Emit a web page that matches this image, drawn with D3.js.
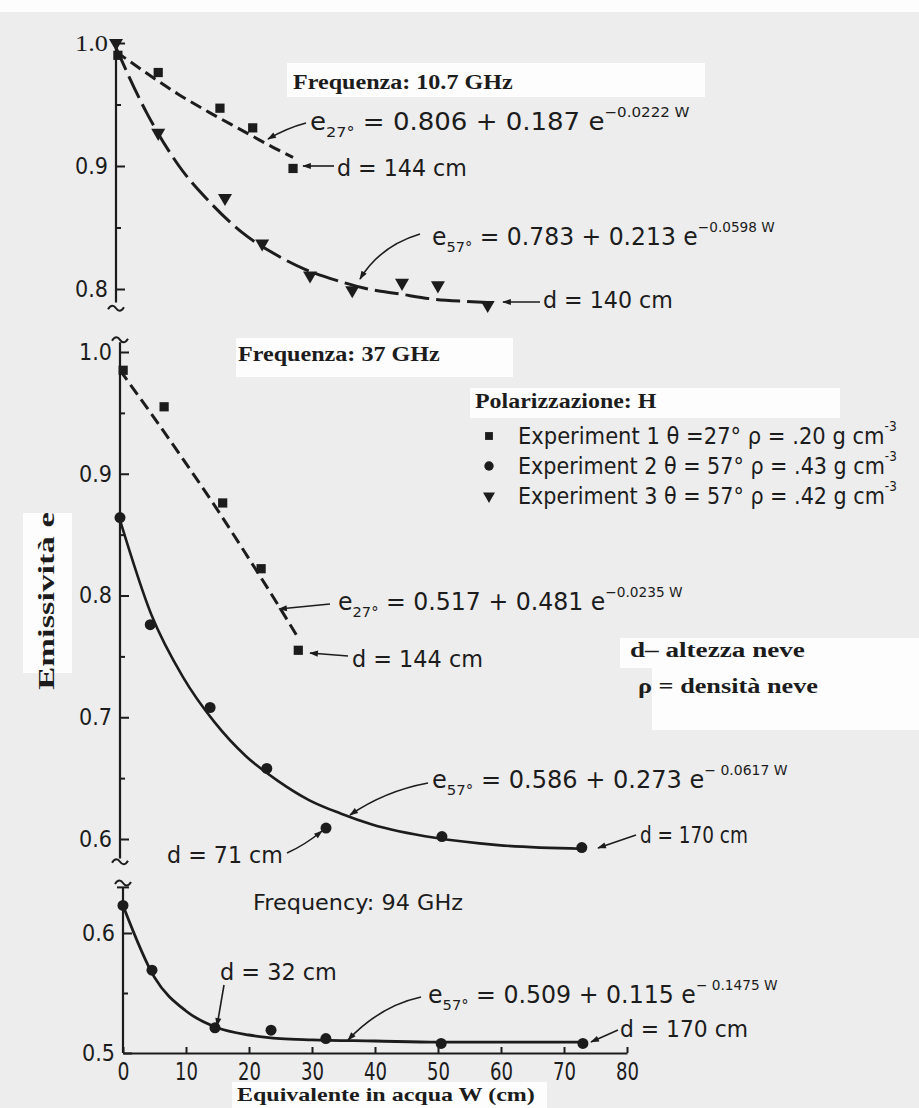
<!DOCTYPE html>
<html><head><meta charset="utf-8">
<script src="https://cdn.jsdelivr.net/npm/d3@7"></script>
<style>
html,body{margin:0;padding:0;background:#ededed;}
svg{display:block;}
</style></head>
<body>
<svg id="chart" width="919" height="1108"></svg>
<script>
// ---------------- DATA ----------------
const xTicks = [0, 10, 20, 30, 40, 50, 60, 70, 80];
const p1YTicks = [0.8, 0.9, 1.0];
const p1YMinor = [0.85, 0.95];
const p2YTicks = [0.6, 0.7, 0.8, 0.9, 1.0];
const p2YMinor = [0.65, 0.75, 0.85, 0.95];
const p3YTicks = [0.5, 0.6];
const p3YMinor = [0.55];

// 10.7 GHz
const f10_exp1_W = [0.3, 6.7, 16.5, 21.7, 28.1];
const f10_exp1_e = [0.990, 0.976, 0.947, 0.931, 0.898];
const f10_exp3_W = [0, 6.7, 17.3, 23.2, 30.8, 37.5, 45.4, 51.1, 59.0];
const f10_exp3_e = [1.000, 0.927, 0.874, 0.837, 0.811, 0.799, 0.805, 0.803, 0.787];
const f10_fit1_W = [0, 5, 10, 15, 20, 25, 28.1];
const f10_fit1_e = [0.993, 0.975, 0.958, 0.943, 0.929, 0.915, 0.907];
const f10_fit3_W = [0, 5, 10, 15, 20, 25, 30, 35, 40, 45, 50, 55, 59];
const f10_fit3_e = [0.996, 0.942, 0.900, 0.870, 0.846, 0.829, 0.816, 0.807, 0.800, 0.796, 0.792, 0.790, 0.789];

// 37 GHz
const f37_exp1_W = [0.5, 7.0, 16.3, 22.4, 28.3];
const f37_exp1_e = [0.985, 0.955, 0.876, 0.822, 0.755];
const f37_exp2_W = [0, 4.8, 14.3, 23.3, 32.7, 51.1, 73.3];
const f37_exp2_e = [0.864, 0.776, 0.708, 0.658, 0.609, 0.602, 0.593];
const f37_fit1_W = [0, 5, 10, 15, 20, 25, 28.3];
const f37_fit1_e = [0.985, 0.949, 0.912, 0.874, 0.834, 0.793, 0.765];
const f37_fit2_W = [0, 5, 10, 15, 20, 25, 30, 35, 40, 50, 60, 73.3];
const f37_fit2_e = [0.862, 0.784, 0.733, 0.696, 0.668, 0.648, 0.632, 0.621, 0.612, 0.601, 0.595, 0.592];

// 94 GHz
const f94_exp2_W = [0, 4.6, 14.6, 23.5, 32.2, 50.5, 73.0];
const f94_exp2_e = [0.623, 0.569, 0.521, 0.519, 0.512, 0.508, 0.508];
const f94_fit2_W = [0, 5, 10, 15, 20, 25, 30, 40, 50, 73];
const f94_fit2_e = [0.623, 0.563, 0.535, 0.521, 0.515, 0.512, 0.511, 0.510, 0.509, 0.509];

const legendLabels = [
  ["Experiment 1  θ =27° ρ = .20 g cm", "-3"],
  ["Experiment 2  θ = 57° ρ = .43 g cm", "-3"],
  ["Experiment 3  θ = 57° ρ = .42 g cm", "-3"]
];

// ---------------- SETUP ----------------
const ink = "#1c1c1c";
const sans = "'DejaVu Sans', 'Liberation Sans', sans-serif";
const serif = "'Liberation Serif', 'Times New Roman', serif";
const svg = d3.select("#chart");
const zip = (a, b) => a.map((v, i) => [v, b[i]]);

const X_SPAN = 504;
const x1 = d3.scaleLinear().domain([0, 80]).range([116, 116 + X_SPAN]);
const x2 = d3.scaleLinear().domain([0, 80]).range([120, 120 + X_SPAN]);
const x3 = d3.scaleLinear().domain([0, 80]).range([123, 123 + X_SPAN]);
const y1 = d3.scaleLinear().domain([0.8, 1.0]).range([289, 43]);
const y2 = d3.scaleLinear().domain([0.6, 1.0]).range([839, 352]);
const y3 = d3.scaleLinear().domain([0.5, 0.6]).range([1053, 933]);

// defs: arrowhead
svg.append("defs").append("marker")
  .attr("id", "arr").attr("viewBox", "0 0 10 8").attr("refX", 9).attr("refY", 4)
  .attr("markerWidth", 11).attr("markerHeight", 7).attr("markerUnits", "userSpaceOnUse")
  .attr("orient", "auto")
  .append("path").attr("d", "M0,0.5 L10,4 L0,7.5 z").attr("fill", ink);

// background white patches (as in the scanned figure)
const whites = [
  [0, 0, 919, 12],
  [287, 63, 418, 34],
  [236, 338, 277, 39],
  [470, 388, 370, 30],
  [620, 638, 299, 30],
  [652, 668, 267, 62],
  [23, 513, 49, 160],
  [232, 1082, 315, 26]
];
svg.append("g").selectAll("rect").data(whites).join("rect")
  .attr("x", d => d[0]).attr("y", d => d[1]).attr("width", d => d[2]).attr("height", d => d[3])
  .attr("fill", "#fdfdfd");

// rich text helper (parts: string or [string,'sub'|'sup'])
function rich(x, y, parts, o) {
  const size = o.size;
  const t = svg.append("text")
    .attr("font-family", o.family || sans).attr("font-size", size)
    .attr("font-weight", o.weight || "normal").attr("fill", ink)
    .attr("text-anchor", o.anchor || "start");
  let cur = 0;
  parts.forEach(p => {
    const s = typeof p === "string" ? p : p[0];
    const k = typeof p === "string" ? "n" : p[1];
    let target = 0, fs = size;
    if (k === "sub") { target = size * 0.28; fs = size * 0.62; }
    if (k === "sup") { target = -size * 0.55; fs = size * 0.58; }
    t.append("tspan").attr("font-size", fs).attr("dy", target - cur).text(s);
    cur = target;
  });
  let sx = 1;
  if (o.width) sx = o.width / t.node().getBBox().width;
  const rot = o.rotate ? ` rotate(${o.rotate})` : "";
  t.attr("transform", `translate(${x},${y})${rot} scale(${sx},1)`);
  return t;
}

function squiggle(ax, y) {
  svg.append("path")
    .attr("d", `M${ax - 8},${y + 1} C${ax - 5},${y - 4} ${ax - 2},${y - 3} ${ax},${y} S${ax + 5},${y + 4} ${ax + 8},${y - 1}`)
    .attr("fill", "none").attr("stroke", ink).attr("stroke-width", 2);
}

function yAxis(xs, ys, major, minor, from, to, serifTop) {
  const ax = xs(0);
  const g = svg.append("g").attr("transform", `translate(${ax},0)`);
  g.call(d3.axisLeft(ys).tickValues(major).tickSize(-9).tickPadding(8).tickFormat(d3.format(".1f")));
  g.select(".domain").remove();
  g.selectAll(".tick line").attr("stroke", ink).attr("stroke-width", 2);
  g.selectAll(".tick text").attr("font-family", sans).attr("font-size", 23).attr("fill", ink)
    .attr("textLength", 33).attr("lengthAdjust", "spacingAndGlyphs");
  if (serifTop) g.selectAll(".tick text").filter(d => d === 1.0).attr("font-family", serif);
  const gm = svg.append("g").attr("transform", `translate(${ax},0)`);
  gm.call(d3.axisLeft(ys).tickValues(minor).tickSize(-5).tickFormat(""));
  gm.select(".domain").remove();
  gm.selectAll(".tick line").attr("stroke", ink).attr("stroke-width", 2);
  svg.append("line").attr("x1", ax).attr("x2", ax).attr("y1", ys(to)).attr("y2", ys(from))
    .attr("stroke", ink).attr("stroke-width", 2.2);
}

// axes
yAxis(x1, y1, p1YTicks, p1YMinor, 0.789, 1.003, true);
squiggle(x1(0), y1(0.786) + 2);
yAxis(x2, y2, p2YTicks, p2YMinor, 0.584, 1.008, false);
squiggle(x2(0), y2(1.01));
squiggle(x2(0), y2(0.583) + 2);
yAxis(x3, y3, p3YTicks, p3YMinor, 0.5, 0.638, false);
squiggle(x3(0), y3(0.64) - 2);
svg.append("line").attr("x1", x3(0) - 6).attr("x2", x3(0) + 6).attr("y1", y3(0.638)).attr("y2", y3(0.638))
  .attr("stroke", ink).attr("stroke-width", 2);

// x axis (bottom panel)
const gx = svg.append("g").attr("transform", `translate(0,${y3(0.5)})`);
gx.call(d3.axisBottom(x3).tickValues(xTicks).tickSize(-6).tickSizeOuter(0).tickPadding(10).tickFormat(d3.format("d")));
gx.select(".domain").attr("stroke", ink).attr("stroke-width", 2.2);
gx.selectAll(".tick line").attr("stroke", ink).attr("stroke-width", 2);
gx.selectAll(".tick text").attr("font-family", sans).attr("font-size", 24).attr("fill", ink)
  .attr("textLength", d => d === 0 ? 12 : 23).attr("lengthAdjust", "spacingAndGlyphs");

// curves
function curve(xs, ys, W, E, dash, sw) {
  svg.append("path").datum(zip(W, E))
    .attr("d", d3.line().x(d => xs(d[0])).y(d => ys(d[1])).curve(d3.curveMonotoneX))
    .attr("fill", "none").attr("stroke", ink).attr("stroke-width", sw)
    .attr("stroke-dasharray", dash);
}
curve(x1, y1, f10_fit1_W, f10_fit1_e, "12,6", 3);
curve(x1, y1, f10_fit3_W, f10_fit3_e, "24,7", 3);
curve(x2, y2, f37_fit1_W, f37_fit1_e, "12,6", 3);
curve(x2, y2, f37_fit2_W, f37_fit2_e, null, 2.6);
curve(x3, y3, f94_fit2_W, f94_fit2_e, null, 2.8);

// markers
const symSquare = d3.symbol().type(d3.symbolSquare).size(85)();
const symCircle = d3.symbol().type(d3.symbolCircle).size(95)();
const symTri = d3.symbol().type(d3.symbolTriangle).size(85)();
function points(xs, ys, W, E, sym, rot) {
  svg.append("g").selectAll("path").data(zip(W, E)).join("path")
    .attr("d", sym).attr("fill", ink)
    .attr("transform", d => `translate(${xs(d[0])},${ys(d[1])})${rot ? " rotate(180)" : ""}`);
}
points(x1, y1, f10_exp1_W, f10_exp1_e, symSquare);
points(x1, y1, f10_exp3_W, f10_exp3_e, symTri, true);
points(x2, y2, f37_exp1_W, f37_exp1_e, symSquare);
points(x2, y2, f37_exp2_W, f37_exp2_e, symCircle);
points(x3, y3, f94_exp2_W, f94_exp2_e, symCircle);

// arrows
const arrows = [
  "M306,123 Q287,128 268,139",
  "M334,166 L303,166",
  "M420,234 Q380,246 360,279",
  "M540,302 L503,302",
  "M330,604 L279,609",
  "M348,656 L310,653",
  "M428,783 Q385,791 350,815",
  "M636,835 L598,848",
  "M287,853 Q305,845 322,831",
  "M224,985 L217,1026",
  "M421,997 Q380,1006 348,1040",
  "M618,1030 L591,1042"
];
svg.append("g").selectAll("path").data(arrows).join("path")
  .attr("d", d => d).attr("fill", "none").attr("stroke", ink).attr("stroke-width", 1.6)
  .attr("marker-end", "url(#arr)");

// headings (bold serif)
rich(293, 89, ["Frequenza: 10.7 GHz"], {size: 20, family: serif, weight: "bold", width: 220});
rich(238, 361, ["Frequenza: 37 GHz"], {size: 20, family: serif, weight: "bold", width: 202});
rich(475, 408, ["Polarizzazione: H"], {size: 20, family: serif, weight: "bold", width: 182});
rich(630, 657, ["d– altezza neve"], {size: 21, family: serif, weight: "bold", width: 175});
rich(638, 693, ["ρ = densità neve"], {size: 21, family: serif, weight: "bold", width: 180});
rich(237, 1101, ["Equivalente in acqua W (cm)"], {size: 19, family: serif, weight: "bold", width: 298});
rich(54, 601, ["Emissività e"], {size: 24, family: serif, weight: "bold", width: 178, anchor: "middle", rotate: -90});

// equations
rich(310, 130, ["e", ["27°", "sub"], " = 0.806 + 0.187 e", ["−0.0222 W", "sup"]], {size: 24, width: 380});
rich(432, 245, ["e", ["57°", "sub"], " = 0.783 + 0.213 e", ["−0.0598 W", "sup"]], {size: 24, width: 343});
rich(338, 610, ["e", ["27°", "sub"], " = 0.517 + 0.481 e", ["−0.0235 W", "sup"]], {size: 24, width: 345});
rich(432, 788, ["e", ["57°", "sub"], " = 0.586 + 0.273 e", ["− 0.0617 W", "sup"]], {size: 24, width: 356});
rich(428, 1003, ["e", ["57°", "sub"], " = 0.509 + 0.115 e", ["− 0.1475 W", "sup"]], {size: 24, width: 350});

// depth labels
rich(337, 176, ["d  =  144  cm"], {size: 23, width: 130});
rich(543, 308, ["d  =  140  cm"], {size: 23, width: 130});
rich(352, 667, ["d  =  144  cm"], {size: 23, width: 131});
rich(640, 843, ["d = 170 cm"], {size: 23, width: 108});
rich(167, 863, ["d  =  71  cm"], {size: 23, width: 116});
rich(253, 910, ["Frequency:   94 GHz"], {size: 21, width: 210});
rich(220, 980, ["d  =  32  cm"], {size: 23, width: 117});
rich(620, 1037, ["d  =  170  cm"], {size: 23, width: 128});

// legend
const legSyms = [symSquare, symCircle, symTri];
legendLabels.forEach((lab, i) => {
  const cy = 436 + i * 30;
  svg.append("path").attr("d", legSyms[i]).attr("fill", ink)
    .attr("transform", `translate(489,${cy})${i === 2 ? " rotate(180)" : ""} scale(0.85)`);
  rich(518, cy + 8, [lab[0], [lab[1], "sup"]], {size: 23, width: 379});
});
</script>
</body></html>
